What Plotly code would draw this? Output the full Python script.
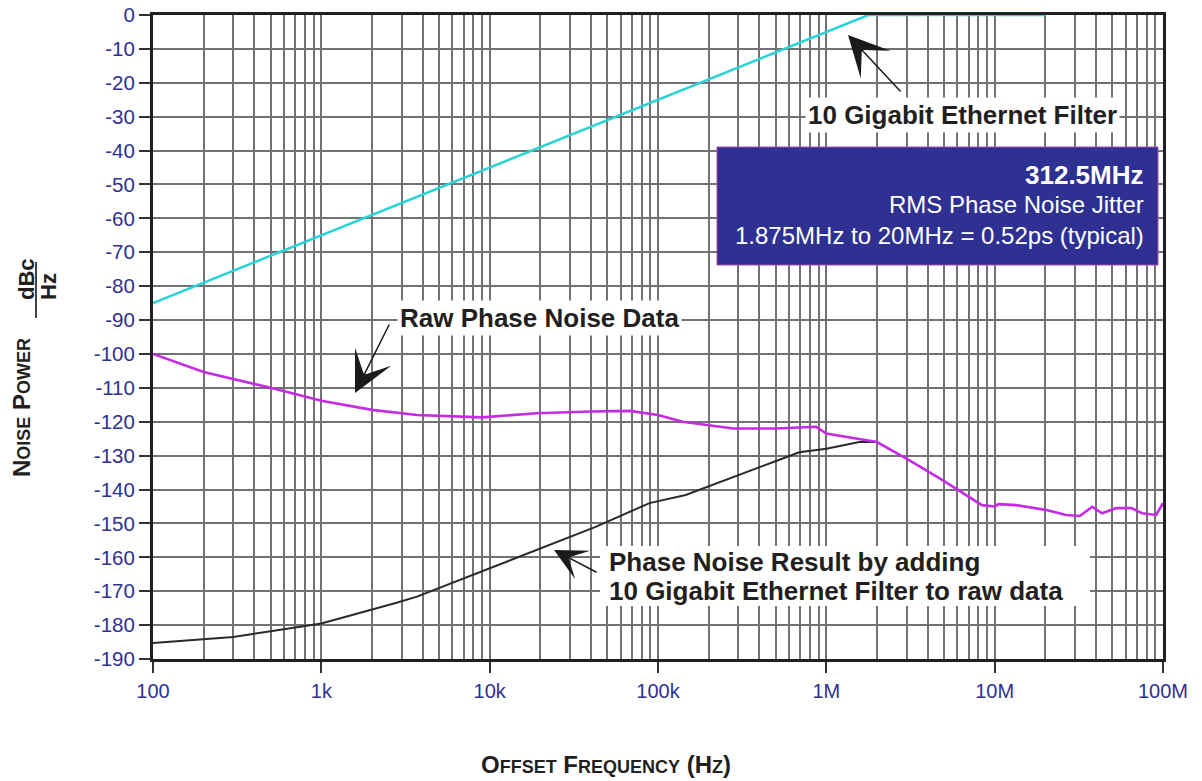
import numpy as np
import plotly.graph_objects as go

# ---------------- data ----------------
raw_freq = [100, 200, 500, 1e3, 2e3, 3.7e3, 9e3, 1.9e4, 4e4, 6.8e4, 1e5, 1.4e5,
            2.8e5, 5e5, 8.7e5, 1e6, 2e6, 3.1e6, 4.9e6, 8.4e6, 1e7, 1.05e7, 1.34e7,
            2e7, 2.66e7, 3.2e7, 3.8e7, 4.35e7, 5.25e7, 6.5e7, 7.5e7, 9.1e7, 1e8]
raw_dbc = [-100, -105.3, -110, -113.8, -116.5, -118, -118.7, -117.5, -117, -116.8,
           -118, -120, -122, -122, -121.5, -123.5, -126, -131.3, -137.2, -144.6,
           -145, -144.3, -144.6, -146, -147.5, -147.8, -145.1, -147, -145.5, -145.5,
           -147, -147.5, -144]

filter_freq = [100, 1e3, 1e4, 1e5, 1e6, 1.78e6, 1e7, 2e7]
filter_db = [-85, -65, -45, -25, -5, 0, 0, 0]

result_freq = [100, 300, 750, 1e3, 2.8e3, 3.7e3, 1.26e4, 4.26e4, 8.9e4, 1.46e5,
               4.9e5, 6.9e5, 1e6, 1.57e6, 2e6]
result_dbc = [-185.3, -183.5, -180.5, -179.5, -173.4, -171.6, -161.3, -151, -144,
              -141.6, -131.8, -129, -128, -126, -126]

x_tickvals = [100, 1e3, 1e4, 1e5, 1e6, 1e7, 1e8]
x_ticktext = ["100", "1k", "10k", "100k", "1M", "10M", "100M"]
y_tickvals = [0, -10, -20, -30, -40, -50, -60, -70, -80, -90, -100,
              -110, -120, -130, -140, -150, -160, -170, -180, -190]
y_ticktext = ["0", "-10", "-20", "-30", "-40", "-50", "-60", "-70", "-80", "-90",
              "-100", "-110", "-120", "-130", "-140", "-150", "-160", "-170",
              "-180", "-190"]

# ---------------- layout helpers ----------------
L, R, T, B = 153, 1163, 15, 659
W, H = 1202, 781


def px_x(px):
    return (px - L) / (R - L)


def px_y(py):
    return (B - py) / (B - T)


def logx(px):
    return 2 + (px - L) / ((R - L) / 6)


def dby(py):
    return -(py - T) / ((B - T) / 190)


FONT = "Liberation Sans, Arial, Helvetica, sans-serif"
TXT = "#231f20"
BLUE = "#2e3192"
GRID = "#727272"

fig = go.Figure()
fig.add_trace(go.Scatter(x=filter_freq, y=filter_db, mode="lines",
                         line=dict(color="#2cd3d6", width=2.6), hoverinfo="skip"))
fig.add_trace(go.Scatter(x=result_freq, y=result_dbc, mode="lines",
                         line=dict(color="#2a2a2a", width=2), hoverinfo="skip"))
fig.add_trace(go.Scatter(x=raw_freq, y=raw_dbc, mode="lines",
                         line=dict(color="#c42be3", width=2.6), hoverinfo="skip"))


def ann(x, y, text, size, color=TXT, xanchor="center", **kw):
    d = dict(xref="paper", yref="paper", x=px_x(x), y=px_y(y), text=text,
             showarrow=False, xanchor=xanchor, yanchor="middle",
             font=dict(size=size, color=color, family=FONT))
    d.update(kw)
    return d


small = "font-size:18px"
annotations = [
    # axis titles
    ann(606, 764,
        f"<b>O<span style='{small}'>FFSET</span> F<span style='{small}'>REQUENCY</span> (H<span style='{small}'>Z</span>)</b>",
        24),
    ann(21, 408,
        f"<b>N<span style='{small}'>OISE</span> P<span style='{small}'>OWER</span></b>",
        24, textangle=-90),
    ann(26, 279, "<b>dBc</b>", 22, textangle=-90),
    ann(48, 287, "<b>Hz</b>", 22, textangle=-90),
    # labels
    ann(962, 115, "<b>10 Gigabit Ethernet Filter</b>", 26, bgcolor="white", borderpad=2),
    ann(539, 318, "<b>Raw Phase Noise Data</b>", 26, bgcolor="white", borderpad=2),
    ann(607, 562, "<b>Phase Noise Result by adding</b>", 26, xanchor="left"),
    ann(607, 591, "<b>10 Gigabit Ethernet Filter to raw data</b>", 26, xanchor="left"),
    # info box text
    ann(1146, 175, "<b>312.5MHz</b>", 26, color="white", xanchor="right"),
    ann(1146, 205, "RMS Phase Noise Jitter", 24, color="white", xanchor="right"),
    ann(1146, 236, "1.875MHz to 20MHz = 0.52ps (typical)", 24, color="white",
        xanchor="right"),
    # arrows
    dict(xref="x", yref="y", x=logx(848), y=dby(35), ax=54, ay=58, text="",
         showarrow=True, arrowhead=3, arrowsize=4.5, arrowwidth=1.5, arrowcolor="#1a1a1a"),
    dict(xref="x", yref="y", x=logx(355), y=dby(393), ax=35, ay=-70, text="",
         showarrow=True, arrowhead=3, arrowsize=4.5, arrowwidth=1.5, arrowcolor="#1a1a1a"),
    dict(xref="x", yref="y", x=logx(554), y=dby(550), ax=44, ay=23, text="",
         showarrow=True, arrowhead=3, arrowsize=3.6, arrowwidth=1.5, arrowcolor="#1a1a1a"),
]

shapes = [
    dict(type="rect", xref="paper", yref="paper", x0=px_x(600), x1=px_x(1090),
         y0=px_y(606), y1=px_y(546), fillcolor="white", line=dict(width=0),
         layer="above"),
    dict(type="rect", xref="paper", yref="paper", x0=px_x(717), x1=px_x(1158),
         y0=px_y(265), y1=px_y(147), fillcolor=BLUE,
         line=dict(color="#b04ab0", width=1), layer="above"),
    dict(type="line", xref="paper", yref="paper", x0=px_x(36), x1=px_x(36),
         y0=px_y(262), y1=px_y(318), line=dict(color="#444444", width=2)),
]

fig.update_layout(
    width=W, height=H,
    margin=dict(l=L, r=W - R, t=T, b=H - B, pad=0, autoexpand=False),
    paper_bgcolor="white", plot_bgcolor="white",
    showlegend=False,
    annotations=annotations,
    shapes=shapes,
    font=dict(family=FONT),
)
fig.update_xaxes(
    type="log", range=[2, 8], automargin=False,
    tickvals=x_tickvals, ticktext=x_ticktext,
    ticks="outside", ticklen=11, tickwidth=2, tickcolor="#333333",
    ticklabelstandoff=1,
    tickfont=dict(size=20, color=BLUE, family=FONT),
    showgrid=True, gridcolor=GRID, gridwidth=1.7,
    minor=dict(dtick="D1", showgrid=True, gridcolor=GRID, gridwidth=1.6, ticks=""),
    showline=True, linecolor=TXT, linewidth=3, mirror=True, zeroline=False,
)
fig.update_yaxes(
    range=[-190, 0], automargin=False,
    tickvals=y_tickvals, ticktext=y_ticktext,
    ticks="outside", ticklen=11, tickwidth=2, tickcolor="#333333",
    tickfont=dict(size=20.5, color=BLUE, family=FONT),
    showgrid=True, gridcolor=GRID, gridwidth=1.7,
    showline=True, linecolor=TXT, linewidth=3, mirror=True, zeroline=False,
)

fig.write_html("out.html", config={"displayModeBar": False},
               post_script="document.body.style.margin='0px';")
